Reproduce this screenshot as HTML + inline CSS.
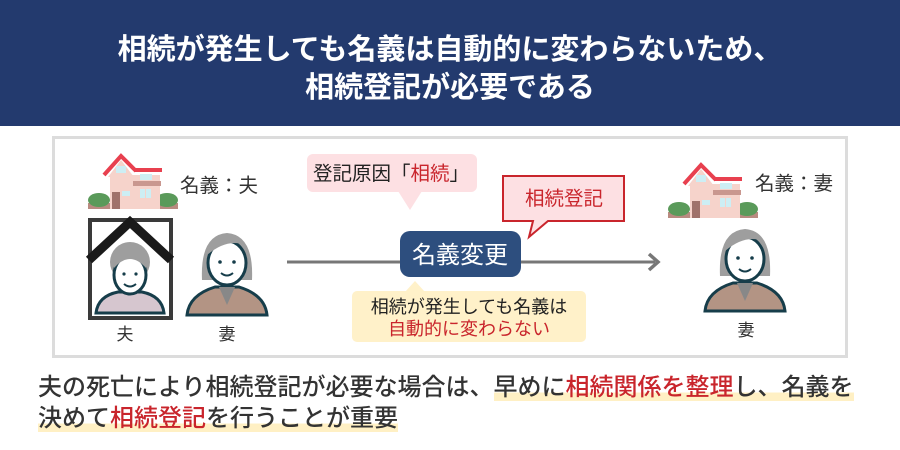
<!DOCTYPE html>
<html><head><meta charset="utf-8"><style>
body{margin:0;width:900px;height:450px;background:#fff;font-family:"Liberation Sans","Noto Sans CJK JP",sans-serif;position:relative;overflow:hidden}
.hd{position:absolute;left:0;top:0;width:900px;height:126px;background:#233a6e;color:#fff;text-align:center;font-size:29px;font-weight:bold;line-height:38px;padding-top:31px;box-sizing:border-box}
.panel{position:absolute;left:52px;top:136px;width:796px;height:222px;border:3px solid #dcdcdc;box-sizing:border-box}
.b{position:absolute;color:#333;left:38px;top:372px;font-size:24px;line-height:31px;font-weight:500;white-space:nowrap}
.hl{background:linear-gradient(transparent 68%,#fff0c4 68%)}
.r{color:#c9252c}
</style></head><body>
<div class="hd">相続が発生しても名義は自動的に変わらないため、<br>相続登記が必要である</div>
<div class="panel"></div>
<svg width="900" height="450" style="position:absolute;left:0;top:0" font-family="Liberation Sans, Noto Sans CJK JP, sans-serif">
<defs>
<g id="house">
<rect x="0" y="48" width="22" height="6" fill="#b98a80"/><ellipse cx="11" cy="45" rx="11" ry="7" fill="#5a9a5a"/>
<rect x="68" y="48" width="22" height="6" fill="#b98a80"/><ellipse cx="79" cy="45" rx="11" ry="7" fill="#5a9a5a"/>
<rect x="22" y="20" width="50" height="34" fill="#f6d3cb"/>
<polygon points="20,22 33,5 46,22" fill="#f6d3cb"/>
<polyline points="16,20 33,1 48,16" fill="none" stroke="#e8404f" stroke-width="4"/>
<rect x="46" y="13" width="28" height="4" fill="#e8404f"/>
<rect x="45" y="26" width="28" height="5" fill="#c9978f"/>
<rect x="28" y="11" width="10" height="7" fill="#cdeef4"/><rect x="52" y="19" width="12" height="6" fill="#cdeef4"/>
<rect x="34" y="36" width="8" height="5" fill="#cdeef4"/><rect x="52" y="34" width="5" height="9" fill="#cdeef4"/><rect x="58" y="34" width="5" height="9" fill="#cdeef4"/>
<rect x="24" y="37" width="8" height="17" fill="#a0726b"/>
</g>
<g id="woman">
<path d="M-25,20 Q-27,-25 0,-27 Q27,-25 25,20 Z" fill="#9e9e9e"/>
<path d="M-40,55 Q-38,35 -12,27 L12,27 Q38,35 40,55 Z" fill="#b39484" stroke="#163d4a" stroke-width="3"/>
<path d="M-8,27 L0,45 L8,27 Z" fill="#888"/>
<ellipse cx="0" cy="3" rx="19" ry="22" fill="#fff" stroke="#163d4a" stroke-width="3"/>
<path d="M-20,-5 Q0,-22 18,-15 Q10,-25 0,-26 Q-20,-24 -20,-5Z" fill="#9e9e9e"/>
<circle cx="-7" cy="2" r="1.8" fill="#163d4a"/><circle cx="7" cy="2" r="1.8" fill="#163d4a"/>
<path d="M-6,13 Q0,18 6,13" fill="none" stroke="#163d4a" stroke-width="2"/>
</g>
</defs>
<use href="#house" x="88" y="155"/>
<use href="#house" x="668" y="164"/>
<text x="180" y="192" font-size="19.5" fill="#333">名義：夫</text>
<text x="755" y="190" font-size="19.5" fill="#333">名義：妻</text>
<rect x="90" y="220" width="81" height="98" fill="#fff" stroke="#3a3a3a" stroke-width="4"/>
<circle cx="130" cy="262" r="20" fill="#9e9e9e"/>
<path d="M96,313 Q98,296 118,292 L142,292 Q162,296 164,313 Z" fill="#d6c6cf" stroke="#163d4a" stroke-width="3"/>
<ellipse cx="130" cy="275" rx="16" ry="19" fill="#fff" stroke="#163d4a" stroke-width="3"/>
<path d="M114,268 Q130,250 146,268 L146,258 Q130,244 114,258Z" fill="#9e9e9e"/>
<circle cx="124" cy="274" r="1.6" fill="#163d4a"/><circle cx="136" cy="274" r="1.6" fill="#163d4a"/>
<path d="M124,284 Q130,289 136,284" fill="none" stroke="#163d4a" stroke-width="2"/>
<polyline points="89,260 130,222 171,260" fill="none" stroke="#1a1a1a" stroke-width="9"/>
<use href="#woman" x="227" y="260"/>
<use href="#woman" x="745" y="256"/>
<text x="125" y="340" font-size="17" fill="#333" text-anchor="middle">夫</text>
<text x="227" y="340" font-size="17" fill="#333" text-anchor="middle">妻</text>
<text x="746" y="336" font-size="17" fill="#333" text-anchor="middle">妻</text>
<line x1="287" y1="262" x2="655" y2="262" stroke="#777" stroke-width="3"/>
<polyline points="649,254 658,262 649,270" fill="none" stroke="#777" stroke-width="3.5"/>
<rect x="307" y="154" width="170" height="38" rx="6" fill="#fde0e3"/>
<polygon points="398,191 422,191 410,210" fill="#fde0e3"/>
<text x="313" y="180" font-size="19.5" fill="#222">登記原因「<tspan fill="#c9252c">相続</tspan>」</text>
<path d="M503,176 H624 V221 H548 L529,237 L533,221 H503 Z" fill="#fde0e3" stroke="#c9252c" stroke-width="2"/>
<text x="564" y="205" font-size="19.5" fill="#c9252c" text-anchor="middle">相続登記</text>
<rect x="400" y="231" width="121" height="46" rx="10" fill="#2d4e7e"/>
<text x="460" y="263" font-size="24" fill="#fff" text-anchor="middle">名義変更</text>
<rect x="352" y="291" width="234" height="51" rx="5" fill="#fff1c9"/>
<polygon points="405,292 425,292 415,281" fill="#fff1c9"/>
<text x="469" y="313" font-size="18" fill="#222" text-anchor="middle">相続が発生しても名義は</text>
<text x="469" y="335" font-size="18" fill="#c9252c" text-anchor="middle">自動的に変わらない</text>
</svg>
<div class="b">夫の死亡により相続登記が必要な場合は、<span class="hl">早めに<span class="r">相続関係を整理</span>し、名義を</span><br><span class="hl">決めて<span class="r">相続登記</span>を行うことが重要</span></div>
</body></html>
